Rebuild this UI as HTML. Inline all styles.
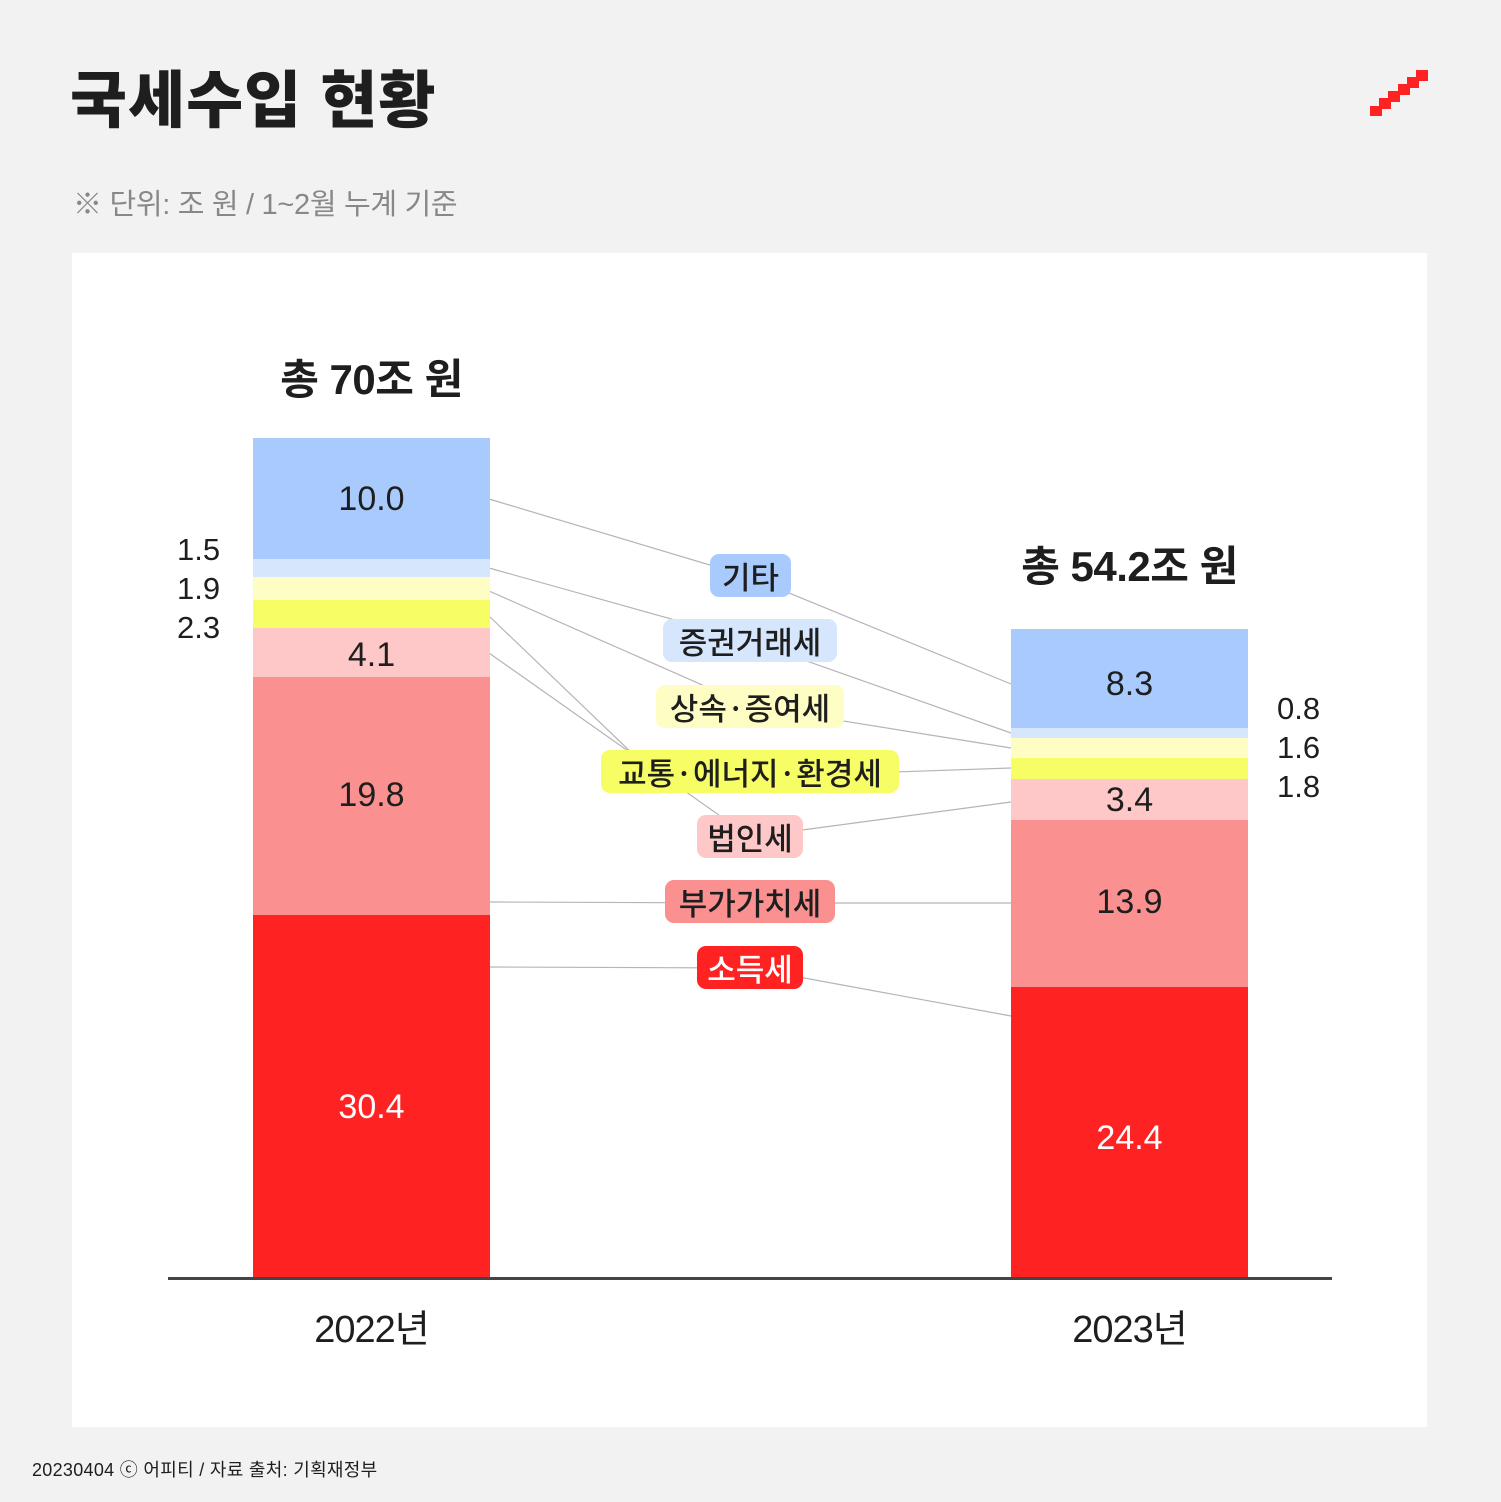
<!DOCTYPE html>
<html><head><meta charset="utf-8"><style>
*{margin:0;padding:0;box-sizing:border-box}
body{width:1501px;height:1502px;background:#f2f2f2;position:relative;overflow:hidden;font-family:"Liberation Sans","Noto Sans CJK KR",sans-serif;color:#1e1e1e}
.a{position:absolute}
.t{white-space:nowrap}
.seg{position:absolute;width:237px}
.v{position:absolute;width:237px;text-align:center;font-size:34px;line-height:40px}
.lab{position:absolute;height:43px;border-radius:9px;font-size:31px;line-height:43px;text-align:center;white-space:nowrap;font-family:"Noto Sans CJK KR",sans-serif;font-weight:500}
.n{position:absolute;font-size:31px;line-height:36px}
</style></head><body>
<div class="a t" style="left:70px;top:62px;font-size:62px;font-weight:900;letter-spacing:1px;line-height:80px">국세수입 현황</div>
<div class="a t" style="left:73px;top:186px;font-size:29px;color:#888;line-height:38px;letter-spacing:-0.3px">※ 단위: 조 원 / 1~2월 누계 기준</div>
<svg class="a" style="left:1368px;top:68px" width="62" height="50"><g fill="#fe2222"><rect x="2" y="38" width="12" height="10"/><rect x="11" y="30" width="12" height="11"/><rect x="20" y="23" width="12" height="11"/><rect x="30" y="16" width="12" height="11"/><rect x="39" y="9" width="12" height="11"/><rect x="48" y="2" width="12" height="11"/></g></svg>
<div class="a" style="left:72px;top:253px;width:1355px;height:1174px;background:#fff"></div>
<svg class="a" style="left:0;top:0" width="1501" height="1502"><g stroke="#b5b5b5" stroke-width="1.2" fill="none">
<path d="M489 499L750 577L1011 684"/>
<path d="M489 568L750 641L1011 733"/>
<path d="M489 591L750 706L1011 748"/>
<path d="M489 616L660 780L1011 768"/>
<path d="M489 653L750 837L1011 802"/>
<path d="M489 902L750 903L1011 903"/>
<path d="M489 967L750 968L1011 1016"/>
</g></svg>
<div class="seg" style="left:253px;top:438px;height:121px;background:#a8cafc"></div>
<div class="seg" style="left:253px;top:559px;height:18px;background:#d5e6fd"></div>
<div class="seg" style="left:253px;top:577px;height:23px;background:#fefdc4"></div>
<div class="seg" style="left:253px;top:600px;height:28px;background:#f7fd64"></div>
<div class="seg" style="left:253px;top:628px;height:49px;background:#fec8c8"></div>
<div class="seg" style="left:253px;top:677px;height:238px;background:#fa9190"></div>
<div class="seg" style="left:253px;top:915px;height:364px;background:#fe2222"></div>
<div class="seg" style="left:1011px;top:629px;height:99px;background:#a8cafc"></div>
<div class="seg" style="left:1011px;top:728px;height:10px;background:#d5e6fd"></div>
<div class="seg" style="left:1011px;top:738px;height:20px;background:#fefdc4"></div>
<div class="seg" style="left:1011px;top:758px;height:21px;background:#f7fd64"></div>
<div class="seg" style="left:1011px;top:779px;height:41px;background:#fec8c8"></div>
<div class="seg" style="left:1011px;top:820px;height:167px;background:#fa9190"></div>
<div class="seg" style="left:1011px;top:987px;height:292px;background:#fe2222"></div>
<div class="a" style="left:168px;top:1277px;width:1164px;height:3px;background:#444"></div>
<div class="v" style="left:253px;top:479px">10.0</div>
<div class="v" style="left:253px;top:635px">4.1</div>
<div class="v" style="left:253px;top:775px">19.8</div>
<div class="v" style="left:253px;top:1087px;color:#fff">30.4</div>
<div class="v" style="left:1011px;top:664px">8.3</div>
<div class="v" style="left:1011px;top:780px">3.4</div>
<div class="v" style="left:1011px;top:882px">13.9</div>
<div class="v" style="left:1011px;top:1118px;color:#fff">24.4</div>
<div class="n" style="left:177px;top:532px">1.5</div>
<div class="n" style="left:177px;top:571px">1.9</div>
<div class="n" style="left:177px;top:610px">2.3</div>
<div class="n" style="left:1277px;top:691px">0.8</div>
<div class="n" style="left:1277px;top:730px">1.6</div>
<div class="n" style="left:1277px;top:769px">1.8</div>
<div class="a t" style="left:253px;top:355px;width:237px;text-align:center;font-size:42px;font-weight:bold;line-height:50px;letter-spacing:-0.5px">총 70조 원</div>
<div class="a t" style="left:1000px;top:542px;width:259px;text-align:center;font-size:42px;font-weight:bold;line-height:50px;letter-spacing:-0.5px">총 54.2조 원</div>
<div class="a t" style="left:253px;top:1306px;width:237px;text-align:center;font-size:38px;line-height:48px;letter-spacing:-1px">2022년</div>
<div class="a t" style="left:1011px;top:1306px;width:237px;text-align:center;font-size:38px;line-height:48px;letter-spacing:-1px">2023년</div>
<div class="lab" style="left:710px;top:554px;width:81px;background:#a8cafc">기타</div>
<div class="lab" style="left:663px;top:619px;width:174px;background:#d5e6fd">증권거래세</div>
<div class="lab" style="left:656px;top:685px;width:188px;background:#fefdc4">상속·증여세</div>
<div class="lab" style="left:601px;top:750px;width:298px;background:#f7fd64">교통·에너지·환경세</div>
<div class="lab" style="left:697px;top:815px;width:106px;background:#fec8c8">법인세</div>
<div class="lab" style="left:665px;top:880px;width:170px;background:#fa9190">부가가치세</div>
<div class="lab" style="left:697px;top:946px;width:106px;background:#fe2222;color:#fff">소득세</div>
<div class="a t" style="left:32px;top:1459px;font-size:18px;line-height:22px;letter-spacing:0.3px">20230404 ⓒ 어피티 / 자료 출처: 기획재정부</div>
</body></html>
